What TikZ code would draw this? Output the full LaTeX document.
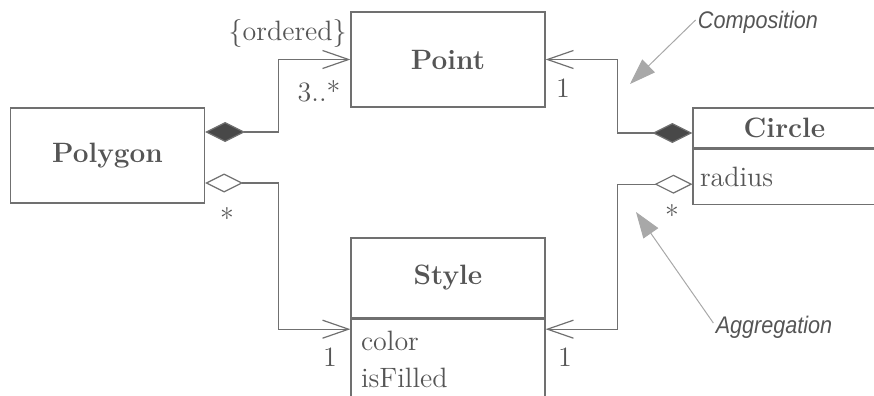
\documentclass[tikz,border=0pt]{standalone}
\usepackage{fontspec}
\newfontfamily\notefont{Liberation Sans}[FakeStretch=0.9]
\usepackage{tikz}
\usetikzlibrary{shapes,arrows.meta,positioning}
\definecolor{inkgray}{HTML}{555555}
\definecolor{linegray}{HTML}{707070}
\definecolor{notegray}{HTML}{A8A8A8}
\newcommand{\umlsize}{\fontsize{14}{18.5}\selectfont}
\tikzstyle{classWH} = [rectangle, draw=linegray, line width=0.6pt, text=inkgray, font=\umlsize\bfseries, inner sep=0pt, minimum width=97pt]
\tikzstyle{attrWH} = [rectangle, draw=linegray, line width=0.6pt, text=inkgray, font=\umlsize, align=left, inner ysep=0pt]
\tikzstyle{mult} = [text=inkgray, font=\umlsize, inner sep=0pt]
\tikzstyle{assoc} = [draw=linegray, line width=0.6pt, -{Straight Barb[length=13pt,width=9pt]}]
\tikzstyle{compos} = [assoc, {Diamond[length=20pt,width=10pt,fill=inkgray!85!black]}-{Straight Barb[length=13pt,width=9pt]}]
\tikzstyle{aggreg} = [assoc, {Diamond[open,length=19pt,width=9.5pt]}-{Straight Barb[length=13pt,width=9pt]}]
\tikzstyle{note} = [text=inkgray, font=\notefont\itshape\fontsize{12}{14}\selectfont, inner sep=0pt]
\tikzstyle{pointer} = [draw=notegray, line width=0.5pt, -{Triangle[length=13pt,width=9pt,fill=notegray]}]

\begin{document}
\begin{tikzpicture}[x=0.5pt, y=-0.5pt]
  \useasboundingbox (0,0) rectangle (874,396);
  \clip (0,0) rectangle (874,396);

    % nodes
    \node [classWH, minimum height=47.5pt] (polygon) at (107.5,155.5) {Polygon};
    \node [classWH, minimum height=47.5pt] (point) at (448,59.5) {Point};
    \node [classWH, minimum width=91.5pt, minimum height=20pt] (circle) at (784.5,128) {Circle};
    \node [attrWH, below=0pt of circle, text width=84.5pt, inner xsep=3.5pt, minimum height=27.5pt] (circleattr) {radius};
    \node [classWH, minimum height=40pt] (style) at (448,278) {Style};
    \node [attrWH, below=0pt of style, text width=87pt, inner xsep=5pt, minimum height=40pt] (styleattr) {color\\isFilled};

    % edges
    \path [compos] ([yshift=11.75pt]polygon.east) -- ++(73,0) |- (point.west);
    \path [aggreg] ([yshift=-13.75pt]polygon.east) -- ++(73,0) |- ([yshift=15pt]styleattr.west);
    \path [compos] ([yshift=-2.5pt]circle.west) -- ++(-75,0) |- (point.east);
    \path [aggreg] ([yshift=-3.75pt]circleattr.west) -- ++(-75,0) |- ([yshift=15pt]styleattr.east);

    % multiplicities
    \node [mult, anchor=east] (ordered) at (347,33) {\{ordered\}};
    \node [mult] (pointmany) at (319,91) {3..*};
    \node [mult] (pointone) at (563,88) {1};
    \node [mult] (polystyle) at (227,218) {*};
    \node [mult] (circstyle) at (672,215) {*};
    \node [mult] (styleleft) at (330,357) {1};
    \node [mult] (styleright) at (565,357) {1};

  % notas
  \node [note] (composition) at (758,22) {Composition};
  \coordinate (compositiontip) at (630,84);
  \path [pointer] ([xshift=-1pt,yshift=1pt]composition.west) -- (compositiontip);
  \node [note] (aggregation) at (774,327) {Aggregation};
  \coordinate (aggregationtip) at (636,212);
  \path [pointer] ([xshift=-1pt,yshift=2pt]aggregation.west) -- (aggregationtip);

  \end{tikzpicture}
\end{document}
